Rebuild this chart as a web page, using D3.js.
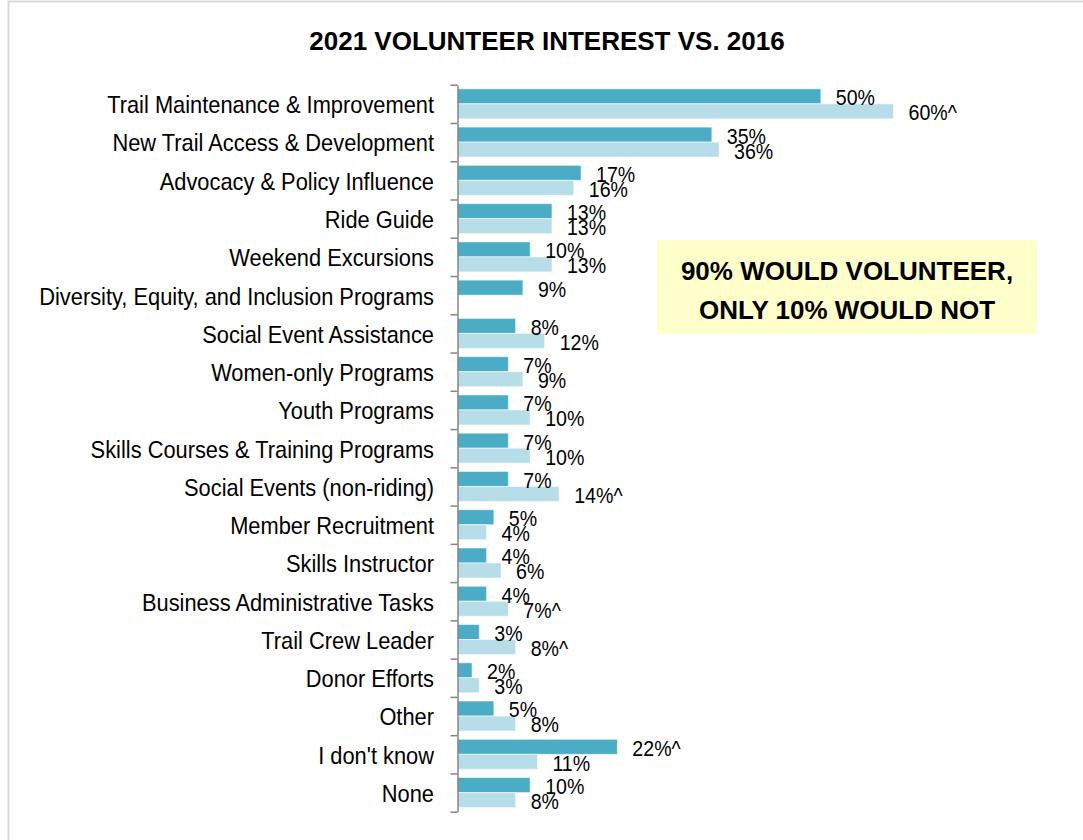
<!DOCTYPE html>
<html>
<head>
<meta charset="utf-8">
<script src="https://cdn.jsdelivr.net/npm/d3@7/dist/d3.min.js"></script>
<style>
  html, body { margin: 0; padding: 0; background: #fff; }
  svg { display: block; font-family: "Liberation Sans", Arial, sans-serif; }
</style>
</head>
<body>
<svg id="chart" width="1083" height="840"></svg>
<script>
// Volunteer interest categories, top to bottom
const categories = [
  "Trail Maintenance & Improvement",
  "New Trail Access & Development",
  "Advocacy & Policy Influence",
  "Ride Guide",
  "Weekend Excursions",
  "Diversity, Equity, and Inclusion Programs",
  "Social Event Assistance",
  "Women-only Programs",
  "Youth Programs",
  "Skills Courses & Training Programs",
  "Social Events (non-riding)",
  "Member Recruitment",
  "Skills Instructor",
  "Business Administrative Tasks",
  "Trail Crew Leader",
  "Donor Efforts",
  "Other",
  "I don't know",
  "None"
];

// Percent interested, 2021 survey
const values2021 = [50, 35, 17, 13, 10, 9, 8, 7, 7, 7, 7, 5, 4, 4, 3, 2, 5, 22, 10];
// Percent interested, 2016 survey (no DEI option that year)
const values2016 = [60, 36, 16, 13, 13, null, 12, 9, 10, 10, 14, 4, 6, 7, 8, 3, 8, 11, 8];

// "^" marks a significant difference between years
const sig2021 = [false, false, false, false, false, false, false, false, false, false, false, false, false, false, false, false, false, true, false];
const sig2016 = [true, false, false, false, false, false, false, false, false, false, true, false, false, true, true, false, false, false, false];

const seriesKeys = ["2021", "2016"];
const seriesColors = ["#4BACC6", "#B7DEE8"];

const titleText = "2021 VOLUNTEER INTEREST VS. 2016";
const calloutLines = ["90% WOULD VOLUNTEER,", "ONLY 10% WOULD NOT"];

const svg = d3.select("#chart");

// Outer frame
svg.append("rect")
  .attr("x", 8.5).attr("y", 1.5)
  .attr("width", 1100).attr("height", 900)
  .attr("fill", "none")
  .attr("stroke", "#d9d9d9")
  .attr("stroke-width", 2);

// Title
svg.append("text")
  .attr("x", 547).attr("y", 41)
  .attr("text-anchor", "middle")
  .attr("dominant-baseline", "central")
  .attr("font-size", 26)
  .attr("font-weight", "bold")
  .attr("fill", "#000")
  .text(titleText);

const x0 = 457.5;
const plotTop = 84.7, plotBottom = 811.7;

const x = d3.scaleLinear().domain([0, 60]).range([x0, x0 + 436]);
const y = d3.scaleBand().domain(categories).range([plotTop, plotBottom]).padding(0);
const ySub = d3.scaleBand().domain(seriesKeys).range([0, y.bandwidth()])
  .paddingInner(0).paddingOuter(0.275);

const rows = categories.map((c, i) => ({
  cat: c,
  bars: [
    { key: "2021", v: values2021[i], sig: sig2021[i], color: seriesColors[0] },
    { key: "2016", v: values2016[i], sig: sig2016[i], color: seriesColors[1] }
  ].filter(b => b.v !== null)
}));

const rowG = svg.append("g").selectAll("g")
  .data(rows)
  .join("g")
  .attr("transform", d => `translate(0,${y(d.cat)})`);

rowG.selectAll("rect")
  .data(d => d.bars)
  .join("rect")
  .attr("x", x(0))
  .attr("y", d => ySub(d.key))
  .attr("width", d => x(d.v) - x(0))
  .attr("height", ySub.bandwidth())
  .attr("fill", d => d.color)
  .attr("stroke", "#ffffff")
  .attr("stroke-opacity", 0.55)
  .attr("stroke-width", 1);

// Value labels in a narrow face, just past each bar end
rowG.selectAll("text.val")
  .data(d => d.bars)
  .join("text")
  .attr("class", "val")
  .attr("transform", d => `translate(${x(d.v) + 15},${ySub(d.key) + ySub.bandwidth() / 2 + 1}) scale(0.89,1)`)
  .attr("dominant-baseline", "central")
  .attr("font-size", 22)
  .attr("fill", "#000")
  .text(d => d.v + "%" + (d.sig ? "^" : ""));

// Category axis with ticks between categories
const tickScale = d3.scaleLinear().domain([0, categories.length]).range([plotTop, plotBottom]);
const axisG = svg.append("g")
  .attr("transform", `translate(${x0},0)`)
  .call(d3.axisLeft(tickScale)
    .tickValues(d3.range(categories.length + 1))
    .tickFormat("")
    .tickSize(7)
    .tickSizeOuter(0));
axisG.selectAll("path, line").attr("stroke", "#868686").attr("stroke-width", 1.5);

// Category labels
svg.append("g").selectAll("text")
  .data(categories)
  .join("text")
  .attr("transform", d => `translate(434,${y(d) + y.bandwidth() / 2 + 1}) scale(0.91,1)`)
  .attr("text-anchor", "end")
  .attr("dominant-baseline", "central")
  .attr("font-size", 24)
  .attr("fill", "#000")
  .text(d => d);

// Callout box
const callout = svg.append("g");
callout.append("rect")
  .attr("x", 657).attr("y", 240)
  .attr("width", 380).attr("height", 94)
  .attr("fill", "#FFFFCC");
callout.selectAll("text")
  .data(calloutLines)
  .join("text")
  .attr("x", 847)
  .attr("y", (d, i) => 271 + i * 39)
  .attr("text-anchor", "middle")
  .attr("dominant-baseline", "central")
  .attr("font-size", 26)
  .attr("font-weight", "bold")
  .attr("fill", "#000")
  .text(d => d);
</script>
</body>
</html>
